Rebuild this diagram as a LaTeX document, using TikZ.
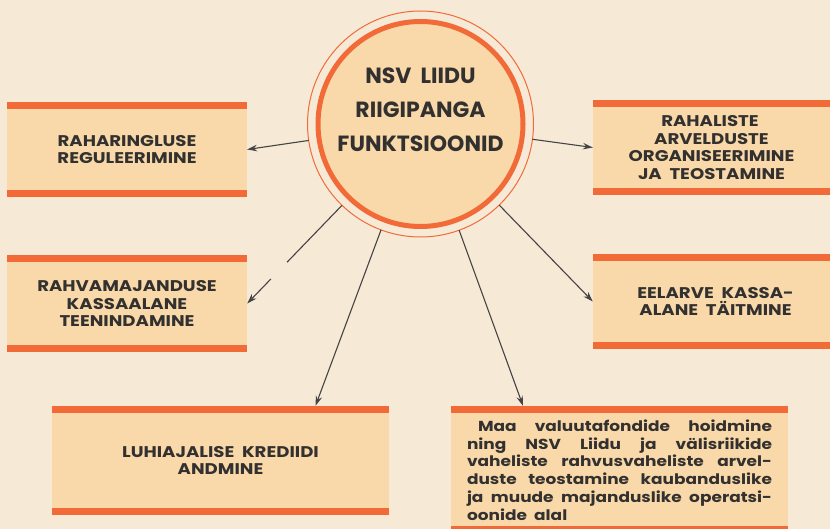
\documentclass[tikz,border=0pt]{standalone}
\usepackage{fontspec}
\setmainfont{Poppins}[BoldFont={Poppins Bold}]
\newfontfamily\widefont{Poppins}[BoldFont={Poppins Bold}, FakeStretch=1.17]
\usetikzlibrary{arrows.meta,calc}
\definecolor{bg}{HTML}{F6EAD6}
\definecolor{boxfill}{HTML}{F9D9A9}
\definecolor{bar}{HTML}{F26A38}
\definecolor{ink}{HTML}{333130}
\definecolor{arrowc}{HTML}{454345}
\tikzset{
  box/.style={fill=boxfill, inner sep=0pt, text=ink, align=center,
    font=\widefont\bfseries\fontsize{15.5}{17.5}\selectfont},
  barfill/.style={fill=bar},
  arr/.style={draw=arrowc, line width=1.1pt, -{Stealth[length=10pt,width=6.5pt,inset=3.5pt]}},
  plainline/.style={draw=arrowc, line width=1.1pt}
}
\begin{document}
\begin{tikzpicture}[x=1pt,y=-1pt]
\fill[bg] (0,0) rectangle (830,529);
\useasboundingbox (0,0) rectangle (830,529);

% boxes
\node[box, minimum width=240pt, minimum height=95pt] (b1) at (127,149.5) {RAHARINGLUSE\\REGULEERIMINE};
\node[box, minimum width=237pt, minimum height=95pt] (b2) at (711.5,147.5) {\hspace*{-3pt}RAHALISTE\\ARVELDUSTE\\ORGANISEERIMINE\\JA\ \ TEOSTAMINE};
\node[box, minimum width=240pt, minimum height=97pt] (b3) at (127,303.5) {RAHVAMAJANDUSE\\KASSAALANE\\TEENINDAMINE};
\node[box, minimum width=237pt, minimum height=95pt] (b4) at (711.5,301.5) {\hspace*{8pt}EELARVE\ \ KASSA-\\\hspace*{8pt}ALANE\ \ TÄITMINE};
\node[box, minimum width=337pt, minimum height=109pt] (b5) at (220.5,460.5) {LUHIAJALISE\ \ KREDIIDI\\ANDMINE};
\node[box, minimum width=337pt, minimum height=128pt, font=\widefont\bfseries\fontsize{14.5}{17.8}\selectfont, align=left] (b6) at (619.5,470) {%
\hspace*{11pt}\makebox[294pt][s]{Maa valuutafondide hoidmine}\\
\makebox[305pt][s]{ning NSV Liidu ja välisriikide}\\
\makebox[305pt][s]{vaheliste rahvusvaheliste arvel-}\\
\makebox[305pt][s]{duste teostamine kaubanduslike}\\
\makebox[305pt][s]{ja muude majanduslike operatsi-}\\
oonide\ \ alal};

% orange bars
\foreach \b in {b1,b2,b3,b4,b5,b6}{
  \fill[barfill] (\b.north west) rectangle ($(\b.north east)+(0,7.5)$);
}
\foreach \b in {b1,b2,b3,b4,b5}{
  \fill[barfill] (\b.south west) rectangle ($(\b.south east)+(0,-7.5)$);
}
\fill[barfill] ($(b6.south west)+(0,-8)$) rectangle (b6.south east);

% central circle
\node[circle, fill=boxfill, draw=bar, line width=5pt, minimum size=205pt, inner sep=0pt] (c) at (420.5,124) {};
\draw[bar, line width=1pt] (c.center) circle[radius=113pt];
\node[text=ink, align=center, inner sep=0pt, font=\bfseries\fontsize{22}{34}\selectfont]
  (ctext) at ($(c.center)+(0,-14)$) {NSV\ \ LIIDU\\RIIGIPANGA\\FUNKTSIOONID};

% connectors
\coordinate (t5) at ($(b5.north)+(95,0)$);
\coordinate (t6) at ($(b6.north)+(-96.5,0)$);
\draw[arr] ($(c.center)!113pt!(b1.east)$) -- (b1.east);
\draw[arr] ($(c.center)!113pt!(b2.west)$) -- (b2.west);
\coordinate (s3) at ($(c.center)!113pt!(b3.east)$);
\draw[plainline] (s3) -- ($(s3)!0.58!(b3.east)$);
\draw[arr] ($(s3)!0.75!(b3.east)$) -- (b3.east);
\draw[arr] ($(c.center)!113pt!(b4.west)$) -- (b4.west);
\draw[arr] ($(c.center)!113pt!(t5)$) -- (t5);
\draw[arr] ($(c.center)!113pt!(t6)$) -- (t6);
\end{tikzpicture}
\end{document}
